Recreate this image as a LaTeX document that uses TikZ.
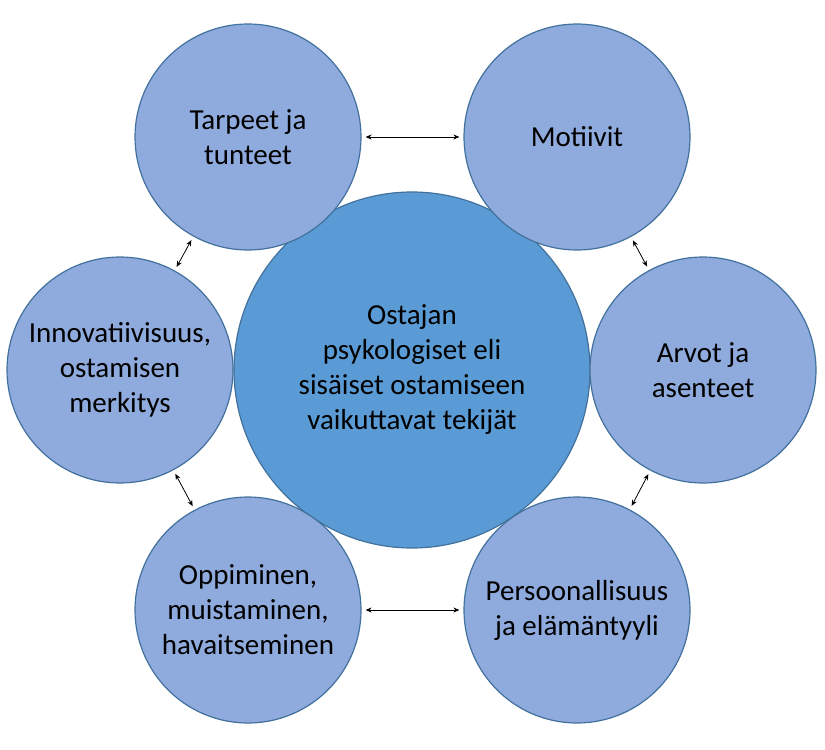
\documentclass[tikz,border=0pt]{standalone}
\usepackage{fontspec}
\setmainfont{Carlito}
\usetikzlibrary{arrows.meta}
\definecolor{outerfill}{HTML}{8FAADC}
\definecolor{centerfill}{HTML}{5B9BD5}
\definecolor{edge}{HTML}{41719C}
\begin{document}
\begin{tikzpicture}[x=1pt,y=-1pt,
  outer/.style={circle,draw=edge,line width=1.2pt,fill=outerfill,minimum size=226pt,inner sep=0pt,align=center,font=\fontsize{29}{35}\selectfont},
  inner/.style={circle,draw=edge,line width=1.2pt,fill=centerfill,minimum size=356pt,inner sep=0pt,align=center,font=\fontsize{29}{35}\selectfont},
  link/.style={{Stealth[length=6pt,width=5pt]}-{Stealth[length=6pt,width=5pt]},line width=0.8pt,shorten >=4pt,shorten <=4pt}]
\useasboundingbox (0,0) rectangle (825,750);
\node[inner] (c) at (412,370) {Ostajan\\psykologiset eli\\sisäiset ostamiseen\\vaikuttavat tekijät};
\node[outer] (tl) at (248,137) {Tarpeet ja\\tunteet};
\node[outer] (tr) at (577,137) {Motiivit};
\node[outer] (l) at (120,370) {Innovatiivisuus,\\ostamisen\\merkitys};
\node[outer] (r) at (703,370) {Arvot ja\\asenteet};
\node[outer] (bl) at (248,610) {Oppiminen,\\muistaminen,\\havaitseminen};
\node[outer] (br) at (577,610) {Persoonallisuus\\ja elämäntyyli};
\draw[link] (tl) -- (tr);
\draw[link] (bl) -- (br);
\draw[link] (tl) -- (l);
\draw[link] (tr) -- (r);
\draw[link] (l) -- (bl);
\draw[link] (r) -- (br);
\end{tikzpicture}
\end{document}
